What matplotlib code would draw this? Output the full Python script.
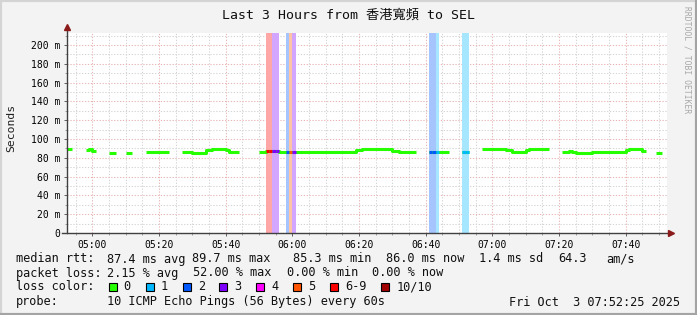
import matplotlib
matplotlib.use('Agg')
import matplotlib.pyplot as plt
import matplotlib.colors as mcolors
from matplotlib.patches import Rectangle
from matplotlib.lines import Line2D
import numpy as np

W, H = 697, 315
MONO = ['DejaVu Sans Mono', 'Noto Sans CJK TC']

# median rtt in ms, one value per minute starting 04:52 (None = no data)
first_minute = "04:52"
median_ms = [
    89.4, 89.4, None, None, None, None, 88.5, 89.5, 87.0, None,
    None, None, None, 85.2, 85.2, None, None, None, 85.5, 85.5,
    None, None, None, None, 86.5, 86.5, 86.5, 86.5, 86.5, 86.5,
    86.5, None, None, None, None, 86.2, 86.2, 86.2, 85.4, 85.4,
    85.4, 85.4, 88.3, 88.3, 89.4, 89.4, 89.4, 89.4, 88.3, 86.5,
    86.5, 86.5, None, None, None, None, None, None, 86.5, 86.5,
    87.6, 87.6, 87.0, 87.0, 86.5, 86.5, 86.5, 86.5, 86.5, 86.2,
    86.2, 86.2, 86.2, 86.2, 86.2, 86.2, 86.2, 86.2, 86.2, 86.2,
    86.2, 86.2, 86.2, 86.2, 86.2, 86.2, 86.2, 88.6, 88.6, 89.4,
    89.4, 89.4, 89.4, 89.4, 89.4, 89.4, 89.4, 89.4, 87.6, 87.6,
    86.2, 86.2, 86.2, 86.2, 86.2, None, None, None, None, 86.2,
    86.2, 86.2, 86.2, 86.2, 86.2, None, None, None, None, 86.2,
    86.2, None, None, None, None, 89.4, 89.4, 89.4, 89.4, 89.4,
    89.4, 89.4, 88.3, 88.3, 86.2, 86.2, 86.2, 86.2, 88.3, 89.6,
    89.6, 89.6, 89.6, 89.6, 89.6, None, None, None, None, 86.5,
    86.5, 87.6, 86.5, 85.4, 85.4, 85.4, 85.4, 85.4, 86.5, 86.5,
    86.5, 86.5, 86.5, 86.5, 86.5, 86.5, 86.5, 86.5, 88.3, 89.7,
    89.7, 89.7, 89.7, 87.6, None, None, None, 85.4, 85.4, None,
    None,
]

# minutes with packet loss and their loss class (index into loss_labels)
loss_time = ["05:52", "05:53", "05:54", "05:55", "05:58", "05:59", "06:00",
             "06:41", "06:42", "06:43", "06:51", "06:52"]
loss_level = [6, 6, 3, 3, 2, 5, 3, 2, 2, 1, 1, 1]

loss_labels = ["0", "1", "2", "3", "4", "5", "6-9", "10/10"]
loss_colors = ["#26ff00", "#00b8ff", "#0059ff", "#7e00ff", "#ff00ff",
               "#ff5500", "#ff0000", "#a10000"]

x_ticks = ["05:00", "05:20", "05:40", "06:00", "06:20", "06:40",
           "07:00", "07:20", "07:40"]
y_ticks = [0, 20, 40, 60, 80, 100, 120, 140, 160, 180, 200]

stats_rtt = ["87.4 ms avg", "89.7 ms max", "85.3 ms min", "86.0 ms now",
             "1.4 ms sd", "64.3", "am/s"]
stats_loss = ["2.15 % avg", "52.00 % max", "0.00 % min", "0.00 % now"]
probe_text = "10 ICMP Echo Pings (56 Bytes) every 60s"
date_text = "Fri Oct  3 07:52:25 2025"
title = "Last 3 Hours from 香港寬頻 to SEL"


def tmin(s):
    h, m = s.split(':')
    return int(h) * 60 + int(m)


def light(c, a=0.35):
    r, g, b = mcolors.to_rgb(c)
    return (1 - a + a * r, 1 - a + a * g, 1 - a + a * b)


def fx(px):
    return px / W


def fy(py):
    return 1 - py / H


t_start = tmin("04:52") + 25 / 60
t_end = t_start + 180
y_top = 212.8

fig = plt.figure(figsize=(W / 100, H / 100), dpi=100, facecolor='#f3f3f3')
ax = fig.add_axes([fx(67), fy(233), fx(600), 200 / H])
ax.set_facecolor('white')
ax.set_xlim(t_start, t_end)
ax.set_ylim(0, y_top)
for s in ax.spines.values():
    s.set_visible(False)

# grid
dot = (0, (1.2, 1.6))
for t in range(tmin("04:55"), int(t_end) + 1, 5):
    if (t - tmin("05:00")) % 20 == 0:
        ax.axvline(t, color='#eab4b4', lw=0.75, ls=dot, zorder=1)
    else:
        ax.axvline(t, color='#d4d4d4', lw=0.75, ls=dot, zorder=1)
for v in range(10, 211, 10):
    if v % 20 == 0:
        ax.axhline(v, color='#eab4b4', lw=0.75, ls=dot, zorder=1)
    else:
        ax.axhline(v, color='#d4d4d4', lw=0.75, ls=dot, zorder=1)

t0 = tmin(first_minute)
vals = np.array([np.nan if v is None else v for v in median_ms], dtype=float)
edges = t0 + np.arange(len(vals) + 1)

# loss bars
for t, lv in zip(loss_time, loss_level):
    a = tmin(t)
    ax.axvspan(a, a + 1, color=light(loss_colors[lv]), lw=0, zorder=2)

# median line
ax.step(edges, np.append(vals, vals[-1]), where='post', color=loss_colors[0],
        lw=2.2, solid_capstyle='butt', zorder=3)
for t, lv in zip(loss_time, loss_level):
    a = tmin(t)
    v = vals[a - t0]
    if not np.isnan(v):
        ax.hlines(v, a, a + 1, color=loss_colors[lv], lw=2.2, zorder=4)

# ticks
ax.set_xticks([tmin(s) for s in x_ticks])
ax.set_xticklabels(x_ticks, fontsize=7, family=MONO)
ax.set_xticks(range(tmin("04:55"), int(t_end) + 1, 5), minor=True)
ax.set_yticks(y_ticks)
ax.set_yticklabels(['0' if v == 0 else '%d m' % v for v in y_ticks],
                   fontsize=7, family=MONO)
ax.set_yticks(range(10, 211, 10), minor=True)
ax.tick_params(axis='both', which='major', length=2, width=0.7,
               color='#606060', pad=3)
ax.tick_params(axis='both', which='minor', length=1.5, width=0.6,
               color='#909090')

# axis lines with arrows
ax.add_line(Line2D([0, 0], [0, 1.02], transform=ax.transAxes,
                   color='#404040', lw=1, clip_on=False, zorder=5))
ax.add_line(Line2D([-0.008, 1.006], [0, 0], transform=ax.transAxes,
                   color='#404040', lw=1, clip_on=False, zorder=5))
ax.plot([0], [1.03], marker='^', ms=4, color='#8b1a1a',
        transform=ax.transAxes, clip_on=False, zorder=6)
ax.plot([1.007], [0], marker='>', ms=4, color='#8b1a1a',
        transform=ax.transAxes, clip_on=False, zorder=6)

# texts
fig.text(fx(348), fy(15), title, ha='center', va='center', fontsize=9.5,
         family=MONO, color='#101010')
fig.text(fx(11), fy(128), "Seconds", rotation=90, ha='center', va='center',
         fontsize=8.2, family=MONO, color='#202020')
fig.text(fx(687), fy(60), "RRDTOOL / TOBI OETIKER", rotation=270,
         ha='center', va='center', fontsize=5.8, family=MONO, color='#a8a8a8')

leg = dict(fontsize=8.6, family=MONO, va='center', ha='left', color='#101010')
fig.text(fx(16), fy(259), "median rtt:", **leg)
for s, px in zip(stats_rtt, [107.3, 192, 293.3, 386, 479.3, 558.3, 606.7]):
    fig.text(fx(px), fy(259), s, **leg)
fig.text(fx(16), fy(273), "packet loss:", **leg)
for s, px in zip(stats_loss, [107.3, 192.7, 286.7, 372.3]):
    fig.text(fx(px), fy(273), s, **leg)
fig.text(fx(16), fy(287), "loss color:", **leg)
for lab, col, px in zip(loss_labels, loss_colors,
                        [108.7, 145.7, 183, 219.3, 256, 293.3, 330, 381.3]):
    fig.patches.append(Rectangle((fx(px), fy(291)), fx(8), 8 / H,
                                 transform=fig.transFigure, facecolor=col,
                                 edgecolor='black', lw=0.8))
    fig.text(fx(px + 15), fy(287), lab, **leg)
fig.text(fx(16), fy(302), "probe:", **leg)
fig.text(fx(107.3), fy(302), probe_text, **leg)
fig.text(fx(680), fy(302), date_text, **dict(leg, ha='right'))

# frame
for xs, ys, c in [([0, 1], [1, 1], '#d4d4d4'), ([0, 0], [0, 1], '#d4d4d4'),
                  ([0, 1], [0, 0], '#a4a4a4'), ([1, 1], [0, 1], '#a4a4a4')]:
    fig.add_artist(Line2D(xs, ys, transform=fig.transFigure, color=c, lw=3))

fig.savefig('out.png', dpi=100, facecolor=fig.get_facecolor())
